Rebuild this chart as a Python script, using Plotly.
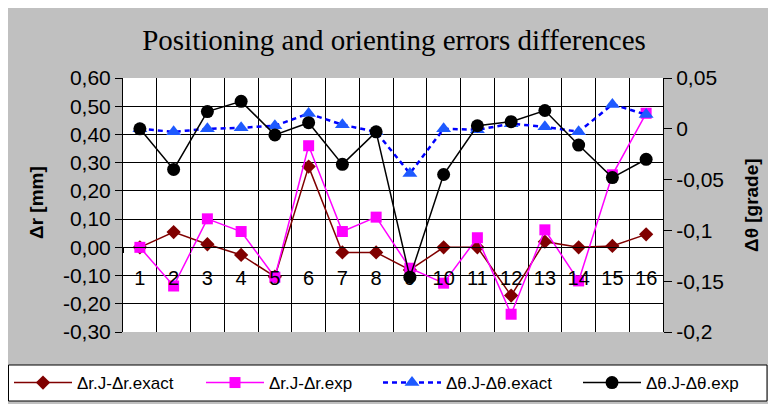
import plotly.graph_objects as go

categories = list(range(1, 17))
cat_labels = [str(c) for c in categories]
boundaries = [c + 0.5 for c in range(0, 17)]

dr_exact = [0.000, 0.054, 0.011, -0.027, -0.104, 0.286, -0.018, -0.018,
            -0.080, 0.000, 0.000, -0.171, 0.020, 0.000, 0.005, 0.046]
dr_exp = [0.000, -0.137, 0.101, 0.056, -0.106, 0.360, 0.056, 0.107,
          -0.074, -0.127, 0.034, -0.237, 0.062, -0.119, 0.257, 0.475]
dth_exact = [0.000, -0.003, 0.000, 0.001, 0.003, 0.015, 0.004, -0.003,
             -0.044, 0.000, -0.001, 0.005, 0.002, -0.003, 0.024, 0.014]
dth_exp = [0.000, -0.040, 0.017, 0.027, -0.006, 0.006, -0.035, -0.003,
           -0.146, -0.045, 0.003, 0.007, 0.018, -0.016, -0.048, -0.030]

left_vals = [0.6, 0.5, 0.4, 0.3, 0.2, 0.1, 0.0, -0.1, -0.2, -0.3]
left_text = ["0,60", "0,50", "0,40", "0,30", "0,20", "0,10", "0,00", "-0,10", "-0,20", "-0,30"]
right_vals = [0.05, 0.0, -0.05, -0.1, -0.15, -0.2]
right_text = ["0,05", "0", "-0,05", "-0,1", "-0,15", "-0,2"]

names = ["Δr.J-Δr.exact", "Δr.J-Δr.exp", "Δθ.J-Δθ.exact", "Δθ.J-Δθ.exp"]

fig = go.Figure()
fig.add_trace(go.Scatter(x=categories, y=dr_exact, name=names[0], mode="lines+markers",
                         legend="legend",
                         line=dict(color="#800000", width=1.5),
                         marker=dict(symbol="diamond", size=11, color="#800000")))
fig.add_trace(go.Scatter(x=categories, y=dr_exp, name=names[1], mode="lines+markers",
                         legend="legend2",
                         line=dict(color="#FF00FF", width=1.5),
                         marker=dict(symbol="square", size=11, color="#FF00FF")))
fig.add_trace(go.Scatter(x=categories, y=dth_exact, name=names[2], mode="lines+markers",
                         yaxis="y2", legend="legend3",
                         line=dict(color="#0000FF", width=2.5, dash="5px,4px"),
                         marker=dict(symbol="triangle-up", size=13, color="#1E5AFF")))
fig.add_trace(go.Scatter(x=categories, y=dth_exp, name=names[3], mode="lines+markers",
                         yaxis="y2", legend="legend4",
                         line=dict(color="#000000", width=1.5),
                         marker=dict(symbol="circle", size=13, color="#000000")))

W, H = 768, 396
L, R, T, B = 115, 113, 70, 72
pw, ph = W - L - R, H - T - B


def px(xp):
    return (xp - L) / pw


def py(yp):
    return (H - B - yp) / ph


def legend_at(text_start):
    return dict(orientation="h", xref="paper", yref="paper",
                x=px(text_start - 70), xanchor="left", y=py(375), yanchor="middle",
                bgcolor="rgba(0,0,0,0)", borderwidth=0,
                font=dict(size=17), itemwidth=58, tracegroupgap=0)


fig.update_layout(
    width=W, height=H,
    margin=dict(l=L, r=R, t=T, b=B, pad=0, autoexpand=False),
    paper_bgcolor="#C0C0C0",
    plot_bgcolor="#FFFFFF",
    font=dict(family="Liberation Sans, Arial", size=20, color="#000000"),
    title=dict(text="Positioning and orienting errors differences",
               font=dict(family="Liberation Serif, Times New Roman", size=29, color="#000000"),
               x=386 / W, xanchor="center", xref="container",
               y=1 - 32 / H, yanchor="middle", yref="container"),
    xaxis=dict(range=[0.5, 16.5], tickmode="array", tickvals=categories, ticktext=cat_labels,
               ticks="", showgrid=False, showline=True, linecolor="#000000", linewidth=1,
               anchor="free", position=0.3 / 0.9, ticklabelstandoff=13,
               tickfont=dict(size=20),
               minor=dict(tickmode="array", tickvals=boundaries, showgrid=True,
                          gridcolor="#000000", gridwidth=1, ticks="outside", ticklen=5,
                          tickcolor="#000000"),
               zeroline=False),
    yaxis=dict(range=[-0.3, 0.6], tickmode="array", tickvals=left_vals, ticktext=left_text,
               showgrid=True, gridcolor="#000000", gridwidth=1, zeroline=False,
               showline=True, linecolor="#000000", linewidth=1,
               ticks="outside", ticklen=7, tickcolor="#000000", tickfont=dict(size=21)),
    yaxis2=dict(range=[-0.2, 0.05], tickmode="array", tickvals=right_vals, ticktext=right_text,
                overlaying="y", side="right", showgrid=False, zeroline=False,
                showline=True, linecolor="#000000", linewidth=1,
                ticks="outside", ticklen=8, tickcolor="#000000", tickfont=dict(size=21)),
    legend=legend_at(71),
    legend2=legend_at(263),
    legend3=legend_at(440),
    legend4=legend_at(640),
    showlegend=True,
)

# legend frame
fig.add_shape(type="rect", xref="paper", yref="paper", x0=px(0.5), x1=px(759), y0=py(393), y1=py(357),
              fillcolor="#FFFFFF", line=dict(color="#000000", width=1), layer="above")

fig.add_annotation(text="<b>Δr [mm]</b>", xref="paper", yref="paper", x=px(28), y=py(195),
                   textangle=-90, showarrow=False, font=dict(size=19), xanchor="center", yanchor="middle")
fig.add_annotation(text="<b>Δθ [grade]</b>", xref="paper", yref="paper", x=px(743), y=py(197),
                   textangle=-90, showarrow=False, font=dict(size=19), xanchor="center", yanchor="middle")

fig.write_html("out.html")
